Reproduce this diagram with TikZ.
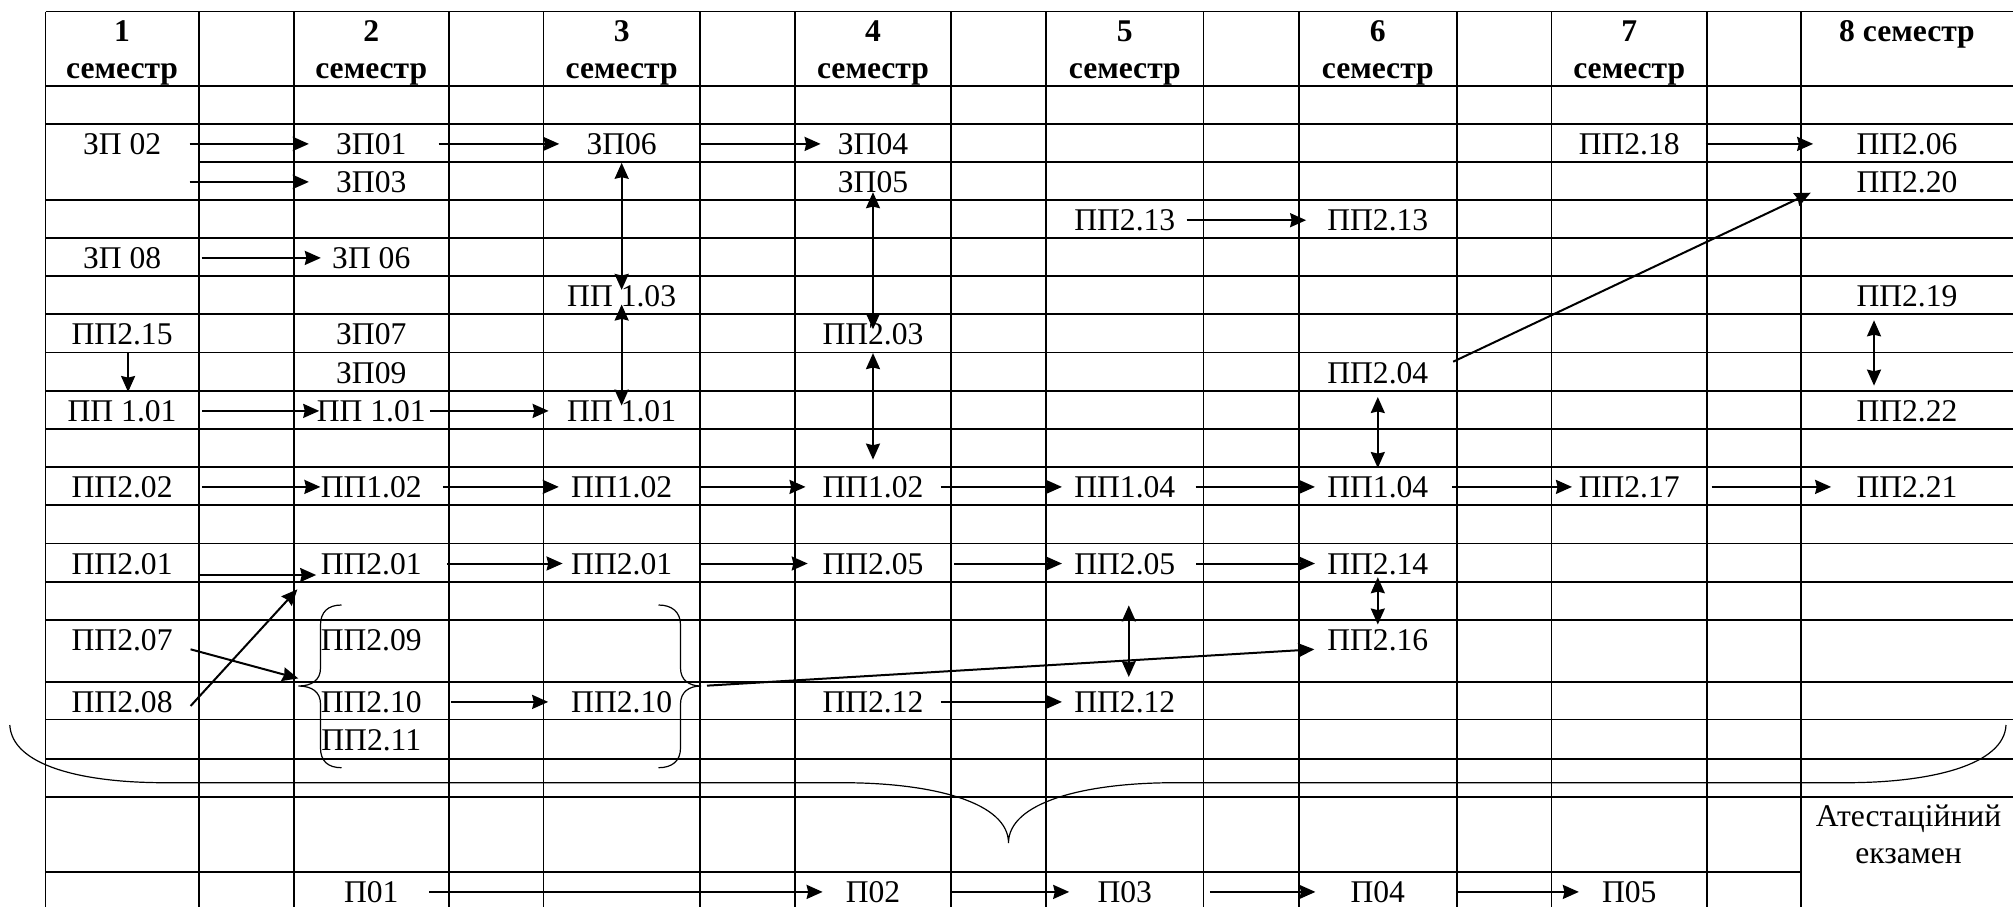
\documentclass[tikz,border=0pt]{standalone}
\usepackage{fontspec}
\setmainfont{Liberation Serif}
\usetikzlibrary{arrows.meta}

\tikzset{
  kod/.style={font=\fontsize{15.8pt}{18pt}\selectfont, inner xsep=0pt, inner ysep=4pt,
              text height=10.5pt, text depth=0pt, minimum width=50pt, anchor=base},
  sem/.style={font=\fontsize{15.8pt}{18pt}\selectfont\bfseries, inner sep=0pt, anchor=base},
  sitka/.style={line width=0.8pt},
  arr/.style={->, line width=1pt, shorten <=8.5pt, shorten >=6pt},
  dvo/.style={<->, line width=1pt},
  duzhka/.style={line width=0.6pt}
}

\begin{document}
\begin{tikzpicture}[x=0.5pt, y=-0.5pt, >={Stealth[length=8pt, width=7pt, inset=0.8pt]}]
\useasboundingbox (0,0) rectangle (2013,907);

% 1. Сітка таблиці
\foreach \x in {45.5, 198.7, 293.8, 448.7, 543.3, 700, 795.1, 950.9, 1046, 1203.6, 1298.7, 1456.9, 1551.5, 1707, 1801.1}
  \draw[sitka] (\x,11.5) -- (\x,907);
\foreach \y in {11.5, 86, 123.7, 200, 237.7, 276, 314, 352.3, 390.7, 428.7, 466.7, 505, 543.3, 581.7, 620, 681.7, 719.3, 759, 796.7}
  \draw[sitka] (45.5,\y) -- (2013,\y);
\draw[sitka] (198.7,161.7) -- (2013,161.7);
\draw[sitka] (45.5,871.7) -- (1801.1,871.7);

% 2. Шапка: семестри
\foreach \n/\x in {1/122.1, 2/371.25, 3/621.65, 4/873, 5/1124.8, 6/1377.8, 7/1629.25} {
  \node[sem] (nom\n) at (\x,41.7) {\n};
  \node[sem] (sem\n) at (\x,78.3) {семестр};
}
\node[sem] (nom8) at (1907,41.7) {8 семестр};

% 3. Дисципліни
\node[kod] (zp02) at (122.1,154.4) {ЗП 02};
\node[kod] (zp01) at (371.25,154.4) {ЗП01};
\node[kod] (zp06a) at (621.65,154.4) {ЗП06};
\node[kod] (zp04) at (873,154.4) {ЗП04};
\node[kod] (pp218) at (1629.25,154.4) {ПП2.18};
\node[kod] (pp206) at (1907,154.4) {ПП2.06};

\node[kod] (zp03) at (371.25,192.4) {ЗП03};
\node[kod] (zp05) at (873,192.4) {ЗП05};
\node[kod] (pp220) at (1907,192.4) {ПП2.20};

\node[kod] (pp213a) at (1124.8,230.7) {ПП2.13};
\node[kod] (pp213b) at (1377.8,230.7) {ПП2.13};

\node[kod] (zp08) at (122.1,268.4) {ЗП 08};
\node[kod] (zp06b) at (371.25,268.4) {ЗП 06};

\node[kod] (pp103) at (621.65,306.7) {ПП 1.03};
\node[kod] (pp219) at (1907,306.7) {ПП2.19};

\node[kod] (pp215) at (122.1,344.7) {ПП2.15};
\node[kod] (zp07) at (371.25,344.7) {ЗП07};
\node[kod] (pp203) at (873,344.7) {ПП2.03};

\node[kod] (zp09) at (371.25,383) {ЗП09};
\node[kod] (pp204) at (1377.8,383) {ПП2.04};

\node[kod] (pp101a) at (122.1,421.4) {ПП 1.01};
\node[kod] (pp101b) at (371.25,421.4) {ПП 1.01};
\node[kod] (pp101c) at (621.65,421.4) {ПП 1.01};
\node[kod] (pp222) at (1907,421.4) {ПП2.22};

\node[kod] (pp202) at (122.1,497.4) {ПП2.02};
\node[kod] (pp102a) at (371.25,497.4) {ПП1.02};
\node[kod] (pp102b) at (621.65,497.4) {ПП1.02};
\node[kod] (pp102c) at (873,497.4) {ПП1.02};
\node[kod] (pp104a) at (1124.8,497.4) {ПП1.04};
\node[kod] (pp104b) at (1377.8,497.4) {ПП1.04};
\node[kod] (pp217) at (1629.25,497.4) {ПП2.17};
\node[kod] (pp221) at (1907,497.4) {ПП2.21};

\node[kod] (pp201a) at (122.1,574) {ПП2.01};
\node[kod] (pp201b) at (371.25,574) {ПП2.01};
\node[kod] (pp201c) at (621.65,574) {ПП2.01};
\node[kod] (pp205a) at (873,574) {ПП2.05};
\node[kod] (pp205b) at (1124.8,574) {ПП2.05};
\node[kod] (pp214) at (1377.8,574) {ПП2.14};

\node[kod] (pp207) at (122.1,650.7) {ПП2.07};
\node[kod] (pp209) at (371.25,650.7) {ПП2.09};
\node[kod] (pp216) at (1377.8,650.7) {ПП2.16};

\node[kod] (pp208) at (122.1,712.4) {ПП2.08};
\node[kod] (pp210a) at (371.25,712.4) {ПП2.10};
\node[kod] (pp210b) at (621.65,712.4) {ПП2.10};
\node[kod] (pp212a) at (873,712.4) {ПП2.12};
\node[kod] (pp212b) at (1124.8,712.4) {ПП2.12};

\node[kod] (pp211) at (371.25,750) {ПП2.11};

\node[kod] (p01) at (371.25,902.4) {П01};
\node[kod] (p02) at (873,902.4) {П02};
\node[kod] (p03) at (1124.8,902.4) {П03};
\node[kod] (p04) at (1377.8,902.4) {П04};
\node[kod] (p05) at (1629.25,902.4) {П05};

\node[font=\fontsize{15.8pt}{18.35pt}\selectfont, align=center, inner sep=0pt, anchor=base]
  (ekz) at (1908.5,863.3) {Атестаційний\\екзамен};

% 4. Фігурні дужки
\coordinate (lbtip) at (298.3,686);
\coordinate (rbtip) at (701,686);
\draw[duzhka] (341.5,605) .. controls (328,605) and (320.5,612) .. (320.5,625) -- (320.5,668)
  .. controls (320.5,680) and (312,686) .. (lbtip) .. controls (312,686) and (320.5,692) .. (320.5,704)
  -- (320.5,748) .. controls (320.5,761) and (328,767.7) .. (341.5,767.7);
\draw[duzhka] (658.5,605) .. controls (672,605) and (680.5,612) .. (680.5,625) -- (680.5,668)
  .. controls (680.5,680) and (689,686) .. (rbtip) .. controls (689,686) and (680.5,692) .. (680.5,704)
  -- (680.5,748) .. controls (680.5,761) and (672,767.7) .. (658.5,767.7);
% велика дужка
\coordinate (vtip) at (1008.5,843);
\draw[duzhka] (9.8,725) .. controls (12,765) and (80,782.7) .. (165,782.7) -- (842,782.7)
  .. controls (935,782.7) and (1008.5,803) .. (vtip) .. controls (1008.5,803) and (1082,782.7) .. (1175,782.7)
  -- (1846,782.7) .. controls (1931,782.7) and (2004,765) .. (2006,725);

% 5. Горизонтальні стрілки
\draw[arr] (zp02.east) -- (zp01.west);
\draw[arr] (zp02.east |- zp03.west) -- (zp03.west);
\draw[arr] (zp01.east) -- (zp06a.west);
\draw[arr, shorten <=14pt, shorten >=1pt] (zp06a.east) -- (zp04.west);
\draw[arr, shorten <=14.5pt, shorten >=0pt] (zp08.east) -- (zp06b.west);
\draw[arr, shorten <=5.5pt, shorten >=10.4pt] (pp213a.east) -- (pp213b.west);
\draw[arr, shorten <=12.7pt, shorten >=21.5pt] (pp218.east) -- (pp206.west);
\draw[arr, shorten <=12.6pt, shorten >=-1.4pt] (pp101a.east) -- (pp101b.west);
\draw[arr, shorten <=1.9pt, shorten >=9.1pt] (pp101b.east) -- (pp101c.west);
\draw[arr, shorten <=14.4pt, shorten >=0pt] (pp202.east) -- (pp102a.west);
\draw[arr, shorten <=10.4pt] (pp102a.east) -- (pp102b.west);
\draw[arr, shorten <=14.2pt, shorten >=8.3pt] (pp102b.east) -- (pp102c.west);
\draw[arr] (pp102c.east) -- (pp104a.west);
\draw[arr, shorten <=10pt] (pp104a.east) -- (pp104b.west);
\draw[arr, shorten <=11.8pt, shorten >=3.2pt] (pp104b.east) -- (pp217.west);
\draw[arr, shorten <=15.7pt, shorten >=12.5pt] (pp217.east) -- (pp221.west);
\draw[arr, shorten <=13.7pt, shorten >=2.1pt] ([yshift=-5.75pt]pp201a.east) -- ([yshift=-5.75pt]pp201b.west);
\draw[arr, shorten <=12.6pt, shorten >=4.1pt] (pp201b.east) -- (pp201c.west);
\draw[arr, shorten <=14.2pt, shorten >=7.2pt] (pp201c.east) -- (pp205a.west);
\draw[arr, shorten <=15.3pt] (pp205a.east) -- (pp205b.west);
\draw[arr, shorten <=10.3pt] (pp205b.east) -- (pp214.west);
\draw[arr, shorten <=14.4pt, shorten >=11.3pt] (pp210a.east) -- (pp210b.west);
\draw[arr] (pp212a.east) -- (pp212b.west);
\draw[arr, shorten <=3.7pt, shorten >=0pt] (p01.east) -- (p02.west);
\draw[arr, shorten <=13.9pt, shorten >=2.6pt] (p02.east) -- (p03.west);
\draw[arr, shorten <=17.3pt] (p03.east) -- (p04.west);
\draw[arr, shorten <=14.5pt, shorten >=0pt] (p04.east) -- (p05.west);

% 6. Вертикальні стрілки
\draw[dvo, shorten >=-6.3pt] (zp06a.south) -- (pp103.north);
\draw[dvo, shorten <=-5.3pt, shorten >=-6.8pt] (pp103.south) -- (pp101c.north);
\draw[dvo, shorten <=-4.3pt, shorten >=-7pt] (zp05.south) -- (pp203.north);
\draw[dvo, shorten >=4.2pt] (pp203.south) -- (pp102c.north);
\draw[arr, shorten <=0pt, shorten >=0pt] ([xshift=3pt]pp215.south) -- ([xshift=3pt]pp101a.north);
\draw[dvo, shorten <=2.8pt] (pp204.south) -- (pp104b.north);
\draw[dvo, shorten <=2.6pt, shorten >=3.2pt] ([xshift=-16.5pt]pp219.south) -- ([xshift=-16.5pt]pp222.north);
\draw[dvo, shorten <=-2.6pt, shorten >=-1.6pt] (pp214.south) -- (pp216.north);
\draw[dvo, shorten <=11.5pt, shorten >=3pt] ([xshift=2pt]pp205b.south) -- ([xshift=2pt]pp212b.north);

% 7. Похилі стрілки
\draw[arr, shorten <=0pt, shorten >=0pt] ([shift={(24.5,-10.8)}]pp204.east) -- ([shift={(-45.4,10.8)}]pp220.west);
\draw[arr, shorten <=0pt, shorten >=0pt] ([shift={(17.6,4.1)}]pp208.east) -- ([shift={(-23,25.8)}]pp201b.west);
\draw[arr, shorten <=0pt, shorten >=0pt] ([shift={(17.6,9.1)}]pp207.east) -- ([yshift=3.8pt]lbtip);
\draw[arr, shorten <=3pt, shorten >=0pt] (rbtip) -- ([shift={(-12.6,9.1)}]pp216.west);

\end{tikzpicture}
\end{document}
